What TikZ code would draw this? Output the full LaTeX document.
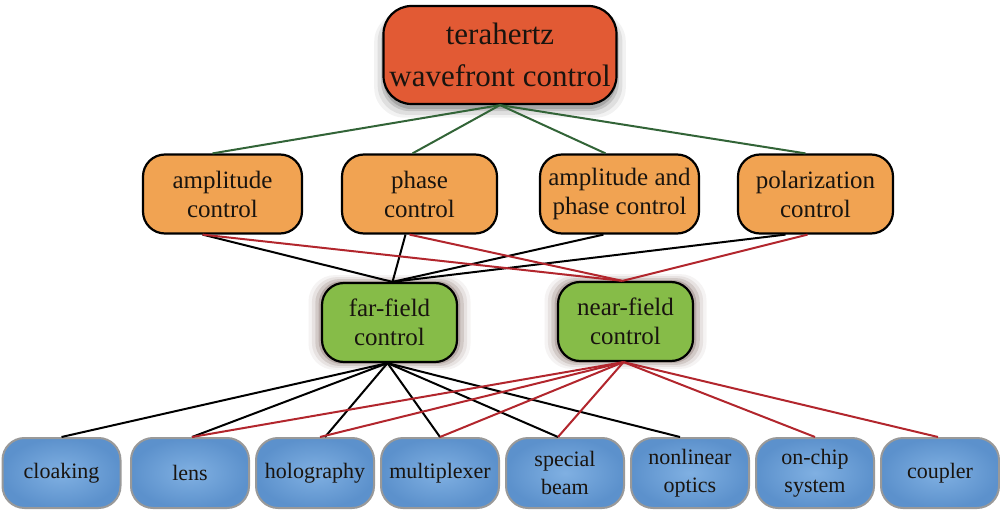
\documentclass[tikz,border=0pt]{standalone}
\usepackage{fontspec}
\setmainfont{Liberation Serif}
\usetikzlibrary{shadows}
\definecolor{topc}{RGB}{226,90,52}
\definecolor{orc}{RGB}{241,163,82}
\definecolor{grc}{RGB}{134,188,72}
\definecolor{blc}{RGB}{92,145,204}
\definecolor{bll}{RGB}{128,176,226}
\definecolor{glc}{RGB}{50,100,55}
\definecolor{rdc}{RGB}{178,38,45}
\definecolor{txc}{RGB}{25,20,15}
\definecolor{shc}{RGB}{60,25,15}
\begin{document}
\begin{tikzpicture}[x=1pt,y=1pt,
 box/.style={draw=black, line width=2.2pt, align=center, inner sep=0pt, text=txc},
 topbox/.style={box, fill=topc, minimum width=233pt, minimum height=98pt, rounded corners=28pt,
   font=\fontsize{31}{42}\selectfont,
   general shadow={shadow yshift=-9pt, shadow scale=1.08, fill=black, opacity=0.05},
   general shadow={shadow yshift=-8pt, shadow scale=1.05, fill=black, opacity=0.08},
   general shadow={shadow yshift=-6pt, shadow scale=1.02, fill=black, opacity=0.12},
   general shadow={shadow yshift=-5pt, shadow scale=1.0, fill=black, opacity=0.15}},
 midbox/.style={box, fill=orc, minimum height=79pt, rounded corners=22pt,
   font=\fontsize{25}{29}\selectfont},
 fieldbox/.style={box, fill=grc, minimum width=135pt, minimum height=79pt, rounded corners=22pt,
   font=\fontsize{25}{29}\selectfont,
   general shadow={shadow scale=1.20, fill=shc, opacity=0.05},
   general shadow={shadow scale=1.15, fill=shc, opacity=0.08},
   general shadow={shadow scale=1.10, fill=shc, opacity=0.12},
   general shadow={shadow scale=1.05, fill=shc, opacity=0.18}},
 appbox/.style={box, draw=gray!80, line width=2pt, inner color=bll, outer color=blc,
   minimum width=118pt, minimum height=70pt, rounded corners=22pt,
   font=\fontsize{22}{28}\selectfont},
 gline/.style={draw=glc, line width=2pt},
 kline/.style={draw=black, line width=2pt},
 rline/.style={draw=rdc, line width=2pt}
]
\useasboundingbox (0,0) rectangle (1000,-510);

\node[topbox] (top) at (500,-55) {terahertz\\wavefront control};

\node[midbox, minimum width=159pt] (amp) at (222.5,-194) {amplitude\\control};
\node[midbox, minimum width=155pt] (pha) at (419.5,-194) {phase\\control};
\node[midbox, minimum width=159pt] (aph) at (619.5,-194) {amplitude and\\phase control};
\node[midbox, minimum width=155pt] (pol) at (815.5,-194) {polarization\\control};

\node[fieldbox] (far) at (389.5,-322.5) {far-field\\control};
\node[fieldbox] (near) at (625.5,-321.5) {near-field\\control};

\node[appbox] (clo) at (61.5,-473) {cloaking};
\node[appbox] (len) at (190,-473) {lens};
\node[appbox] (hol) at (315,-473) {holography};
\node[appbox] (mul) at (440,-473) {multiplexer};
\node[appbox] (spe) at (565,-473) {special\\beam};
\node[appbox] (non) at (690,-473) {nonlinear\\optics};
\node[appbox] (onc) at (815,-473) {on-chip\\system};
\node[appbox] (cou) at (940,-473) {coupler};

% top to control types
\draw[gline] (top.south) -- ([xshift=-10pt]amp.north);
\draw[gline] (top.south) -- ([xshift=-7pt]pha.north);
\draw[gline] (top.south) -- ([xshift=-14pt]aph.north);
\draw[gline] (top.south) -- ([xshift=-10pt]pol.north);

% control types to far / near
\draw[kline] ([xshift=-20pt]amp.south) -- ([xshift=3pt]far.north);
\draw[kline] ([xshift=-14pt]pha.south) -- ([xshift=3pt]far.north);
\draw[kline] ([xshift=-16pt]aph.south) -- ([xshift=3pt]far.north);
\draw[kline] ([xshift=-30pt]pol.south) -- ([xshift=3pt]far.north);
\draw[rline] ([xshift=-20pt]amp.south) -- ([xshift=-3pt]near.north);
\draw[rline] ([xshift=-10pt]pha.south) -- ([xshift=-3pt]near.north);
\draw[rline] ([xshift=-8pt]pol.south) -- ([xshift=-3pt]near.north);

% far-field to applications
\draw[kline] ([xshift=-2pt]far.south) -- (clo.north);
\draw[kline] ([xshift=-2pt]far.south) -- ([xshift=2pt]len.north);
\draw[kline] ([xshift=-2pt]far.south) -- ([xshift=10pt]hol.north);
\draw[kline] ([xshift=-2pt]far.south) -- (mul.north);
\draw[kline] ([xshift=-2pt]far.south) -- ([xshift=-7pt]spe.north);
\draw[kline] ([xshift=-2pt]far.south) -- ([xshift=-10pt]non.north);

% near-field to applications
\draw[rline] ([xshift=-2pt]near.south) -- ([xshift=2pt]len.north);
\draw[rline] ([xshift=-2pt]near.south) -- ([xshift=5pt]hol.north);
\draw[rline] ([xshift=-2pt]near.south) -- (mul.north);
\draw[rline] ([xshift=-2pt]near.south) -- ([xshift=-7pt]spe.north);
\draw[rline] ([xshift=-2pt]near.south) -- (onc.north);
\draw[rline] ([xshift=-2pt]near.south) -- ([xshift=-2pt]cou.north);
\end{tikzpicture}
\end{document}
